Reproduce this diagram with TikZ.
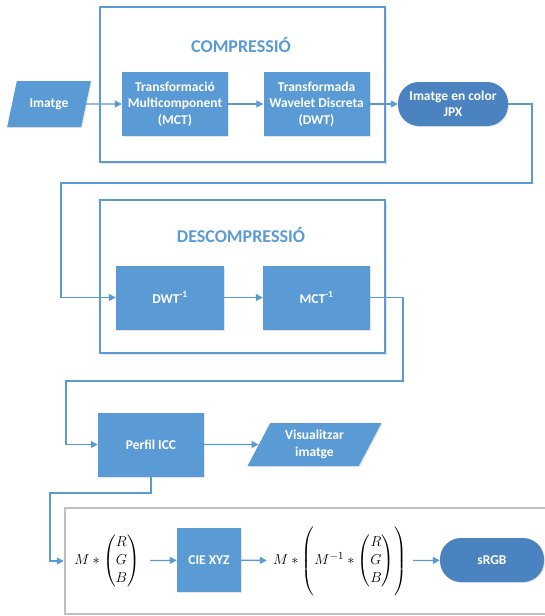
\documentclass[tikz,border=0pt]{standalone}
\usepackage{amsmath}
\usepackage{fontspec}
\setmainfont{Carlito}
\usetikzlibrary{shapes.geometric,arrows.meta,shadows}
\definecolor{blu}{HTML}{5B9BD5}
\definecolor{dblu}{HTML}{4A83C0}
\definecolor{gry}{HTML}{BFBFBF}
\begin{document}
\begin{tikzpicture}[x=1pt,y=-1pt,
  container/.style={draw=blu,line width=2.2pt,fill=white,inner sep=0pt,
    drop shadow={shadow xshift=1.5pt,shadow yshift=-1.5pt,opacity=0.2}},
  title/.style={text=blu,font=\bfseries\fontsize{18}{21}\selectfont},
  blk/.style={fill=blu,text=white,font=\bfseries\fontsize{13.5}{16.5}\selectfont,
    align=center,inner sep=0pt,minimum width=106pt,minimum height=64pt,
    drop shadow={shadow xshift=1pt,shadow yshift=-1pt,opacity=0.2}},
  term/.style={fill=dblu,text=white,font=\bfseries\fontsize{13.5}{16.5}\selectfont,
    align=center,inner sep=0pt,rounded corners=21pt,minimum height=44pt,
    drop shadow={shadow xshift=1pt,shadow yshift=-1pt,opacity=0.2}},
  io/.style={trapezium,trapezium left angle=62,trapezium right angle=118,
    trapezium stretches=true,fill=blu,text=white,
    font=\bfseries\fontsize{13.5}{16.5}\selectfont,align=center,inner sep=0pt,
    drop shadow={shadow xshift=1pt,shadow yshift=-1pt,opacity=0.2}},
  conn/.style={draw=blu,line width=1.3pt,-{Triangle[length=7pt,width=7pt]}},
  fml/.style={font=\fontsize{15.5}{18}\selectfont}
]
\useasboundingbox (0,0) rectangle (544,616);

% compression
\node[container,minimum width=285pt,minimum height=155pt] (comp) at (242.5,84.5) {};
\node[title] (comptitle) at (241,45) {COMPRESSIÓ};
\node[io,minimum width=84pt,minimum height=46pt] (img) at (49,104) {Imatge};
\node[blk] (mct) at (175,104) {Transformació\\Multicomponent\\(MCT)};
\node[blk] (dwt) at (316.5,104) {Transformada\\Wavelet Discreta\\(DWT)};
\node[term,minimum width=110pt] (jpx) at (453,104) {Imatge en color\\JPX};

\draw[conn] (img) -- (mct);
\draw[conn] (mct) -- (dwt);
\draw[conn] (dwt) -- (jpx);

\coordinate (c1) at (532,183);
\coordinate (c2) at (61,183);

% decompression
\node[container,minimum width=285pt,minimum height=153pt] (decomp) at (242.5,276.5) {};
\node[title] (decomptitle) at (241,235) {DESCOMPRESSIÓ};
\node[blk,minimum width=108pt] (dwti) at (170,297.5) {DWT\textsuperscript{-1}};
\node[blk,minimum width=107pt] (mcti) at (316.5,297.5) {MCT\textsuperscript{-1}};
\draw[conn] (jpx.east) -| (c1) -- (c2) |- (dwti.west);
\draw[conn] (dwti) -- (mcti);

\coordinate (c3) at (403,381);
\coordinate (c4) at (66,381);
\node[blk] (icc) at (151,444.5) {Perfil ICC};
\node[io,minimum width=135pt,minimum height=43pt] (vis) at (314.5,444.5) {Visualitzar\\imatge};
\draw[conn] (mcti.east) -| (c3) -- (c4) |- (icc.west);
\draw[conn] (icc) -- (vis);

% bottom box
\node[draw=gry,line width=1.6pt,fill=white,inner sep=0pt,minimum width=490pt,minimum height=106pt,
  drop shadow={shadow xshift=1pt,shadow yshift=-1pt,opacity=0.2}] (conv) at (310,561) {};
\coordinate (c5) at (50,493);
\node[fml,inner sep=0pt,minimum width=86pt,minimum height=56pt] (f1) at (107,561) {$M\ast\begin{pmatrix}R\\G\\B\end{pmatrix}$};
\node[blk,minimum width=64pt,minimum height=64pt] (cie) at (209,560) {CIE XYZ};
\node[fml,inner sep=0pt,minimum width=146pt,minimum height=56pt] (f2) at (340,561) {$M\ast\left(\vphantom{\rule[-31pt]{0pt}{64pt}}M^{-1}\ast\begin{pmatrix}R\\G\\B\end{pmatrix}\right)$};
\node[term,minimum width=104pt] (srgb) at (492,560) {sRGB};
\draw[conn] (icc.south) |- (c5) |- (f1.west);
\draw[conn] (f1) -- (cie);
\draw[conn] (cie) -- (f2);
\draw[conn] (f2) -- (srgb);
\end{tikzpicture}
\end{document}
